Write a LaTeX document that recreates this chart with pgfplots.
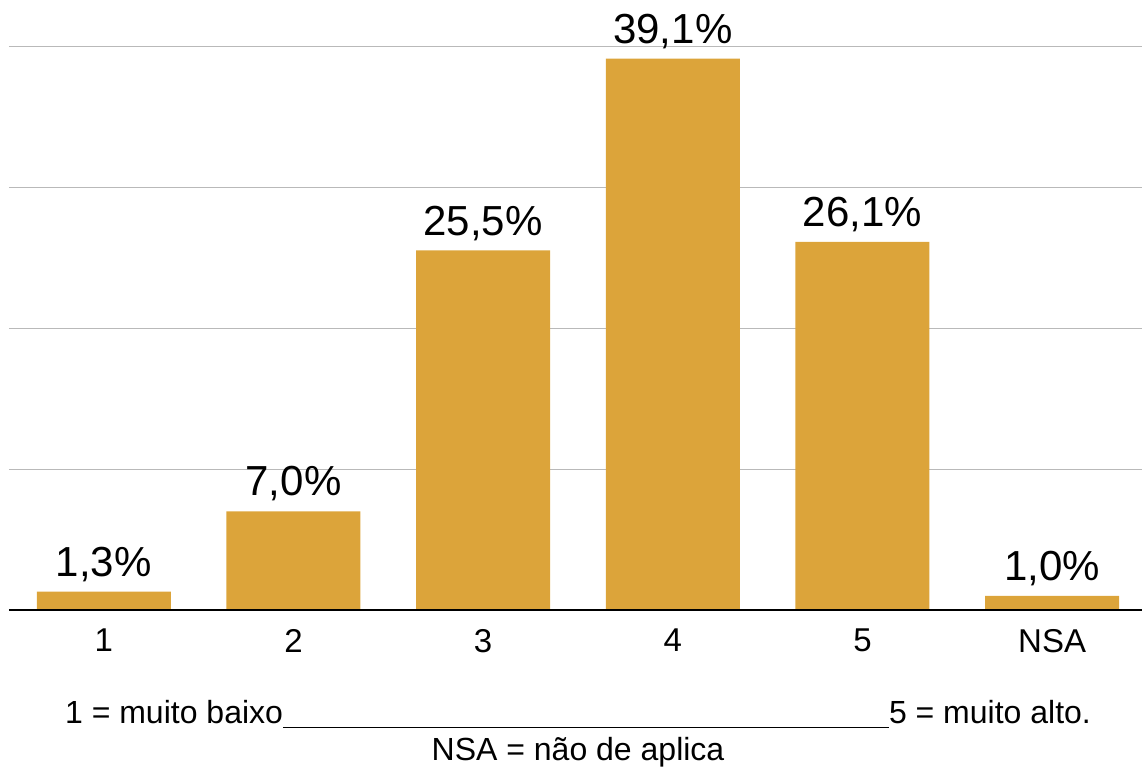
\documentclass[border=0pt]{standalone}
\usepackage{pgfplots}
\pgfplotsset{compat=1.18}
\usepackage{fontspec}
\setmainfont{Liberation Sans}
\definecolor{bar}{RGB}{220,164,58}
\begin{document}
\begin{tikzpicture}
\useasboundingbox (0,-78.5pt) rectangle (571pt,305pt);
\begin{axis}[
  at={(4.5pt,0pt)}, anchor=south west,
  scale only axis,
  width=569pt, height=282pt,
  xmin=-0.5, xmax=5.5, ymin=0, ymax=40,
  axis line style={draw=none},
  xtick={0,1,2,3,4,5},
  xticklabels={1,2,3,4,5,NSA},
  x tick label style={font=\fontsize{16.5}{18}\selectfont, yshift=-6pt},
  major tick length=0pt,
  ytick={10,20,30,40},
  yticklabels={},
  ymajorgrids,
  grid style={gray!55, line width=0.5pt},
  clip=false,
  nodes near coords,
  point meta=explicit symbolic,
  every node near coord/.append style={font=\fontsize{21}{22}\selectfont, text=black, yshift=1.5pt},
]
\addplot[ybar, bar width=67pt, fill=bar, draw=none] table[meta=lab] {
x y lab
0 1.3 1,3\%
1 7.0 7,0\%
2 25.5 25,5\%
3 39.1 39,1\%
4 26.1 26,1\%
5 1.0 1,0\%
};
\draw[black, line width=1pt] (axis cs:-0.5,0) -- (axis cs:5.5,0);
\end{axis}
\node[anchor=base, font=\fontsize{16}{18}\selectfont] at (289pt,-56.5pt) {1 = muito baixo\rule[-2.5pt]{303pt}{0.5pt}5 = muito alto.};
\node[anchor=base, font=\fontsize{16}{18}\selectfont] at (289pt,-75pt) {NSA = não de aplica};
\end{tikzpicture}
\end{document}
